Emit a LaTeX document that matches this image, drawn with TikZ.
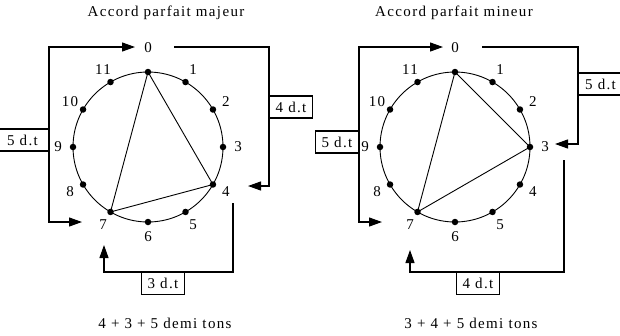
\documentclass[tikz,border=0pt]{standalone}
\usepackage{fontspec}
\setmainfont{Liberation Serif}
\newfontfamily\widefont[LetterSpace=9]{Liberation Serif}
\usetikzlibrary{arrows.meta, positioning, calc}
\tikzset{
	dotnode/.style={
			circle,
			fill=black,
			inner sep=0pt,
			minimum size=6.5pt
		},
	numnode/.style={
			font=\widefont\fontsize{15}{15}\selectfont,
			inner sep=0pt
		},
	dtbox/.style={
			draw=black,
			line width=1.1pt,
			font=\widefont\fontsize{15}{15}\selectfont,
			minimum width=43pt,
			minimum height=22pt,
			inner sep=0pt
		},
	dtline/.style={
			line width=1.2pt,
			>={Triangle[length=13pt,width=9pt]}
		},
	chord/.style={
			line width=0.9pt
		},
	titlenode/.style={
			font=\widefont\fontsize{15}{15}\selectfont,
			inner sep=0pt
		}
}

\begin{document}
\begin{tikzpicture}[x=1pt, y=-1pt]
\useasboundingbox[fill=white] (0,0) rectangle (620,335);

% accord majeur
\coordinate (c1) at (148,147);
\draw[chord] (c1) circle[radius=75];
\foreach \k in {0,...,11} {
	\node[dotnode] (p\k) at ($(c1)+({30*\k-90}:75)$) {};
}
\node[numnode] (lp0) at (148,48) {0};
\foreach \k in {1,...,11} {
	\node[numnode] (lp\k) at ($(c1)+({30*\k-90}:90)$) {\k};
}
\draw[chord] (p0.center) -- (p4.center) -- (p7.center) -- cycle;

\node[titlenode] (t1) at (166,13) {Accord parfait majeur};
\node[titlenode] (s1) at (165,323) {4 + 3 + 5 demi tons};

\coordinate (a1) at (135,47);
\coordinate (a2) at (82,222);
\coordinate (a3) at (174,47);
\coordinate (a4) at (248,186);
\coordinate (a5) at (233,203);
\coordinate (a6) at (104,245);

\draw[dtline, <->] (a1) -| (49,222) -- (a2);
\draw[dtline, ->] (a3) -| (269,186) -- (a4);
\draw[dtline, ->] (a5) |- (104,272) -- (a6);

\node[dtbox, minimum width=52pt, anchor=east] (b1) at (49,140) {5 d.t};
\node[dtbox, anchor=west] (b2) at (269,107) {4 d.t};
\node[dtbox, anchor=north] (b3) at (163,272) {3 d.t};

% accord mineur
\coordinate (c2) at (455,147);
\draw[chord] (c2) circle[radius=75];
\foreach \k in {0,...,11} {
	\node[dotnode] (q\k) at ($(c2)+({30*\k-90}:75)$) {};
}
\node[numnode] (lq0) at (455,48) {0};
\foreach \k in {1,...,11} {
	\node[numnode] (lq\k) at ($(c2)+({30*\k-90}:90)$) {\k};
}
\draw[chord] (q0.center) -- (q3.center) -- (q7.center) -- cycle;

\node[titlenode] (t2) at (454,13) {Accord parfait mineur};
\node[titlenode] (s2) at (471,323) {3 + 4 + 5 demi tons};

\coordinate (d1) at (443,47);
\coordinate (d2) at (382,222);
\coordinate (d3) at (482,47);
\coordinate (d4) at (555,144);
\coordinate (d5) at (564,160);
\coordinate (d6) at (410,250);

\draw[dtline, <->] (d1) -| (359,222) -- (d2);
\draw[dtline, ->] (d3) -| (578,144) -- (d4);
\draw[dtline, ->] (d5) |- (410,272) -- (d6);

\node[dtbox, anchor=east] (e1) at (359,142) {5 d.t};
\node[dtbox, minimum width=44pt, anchor=west] (e2) at (578,84) {5 d.t};
\node[dtbox, anchor=north] (e3) at (478,272) {4 d.t};

\end{tikzpicture}
\end{document}
